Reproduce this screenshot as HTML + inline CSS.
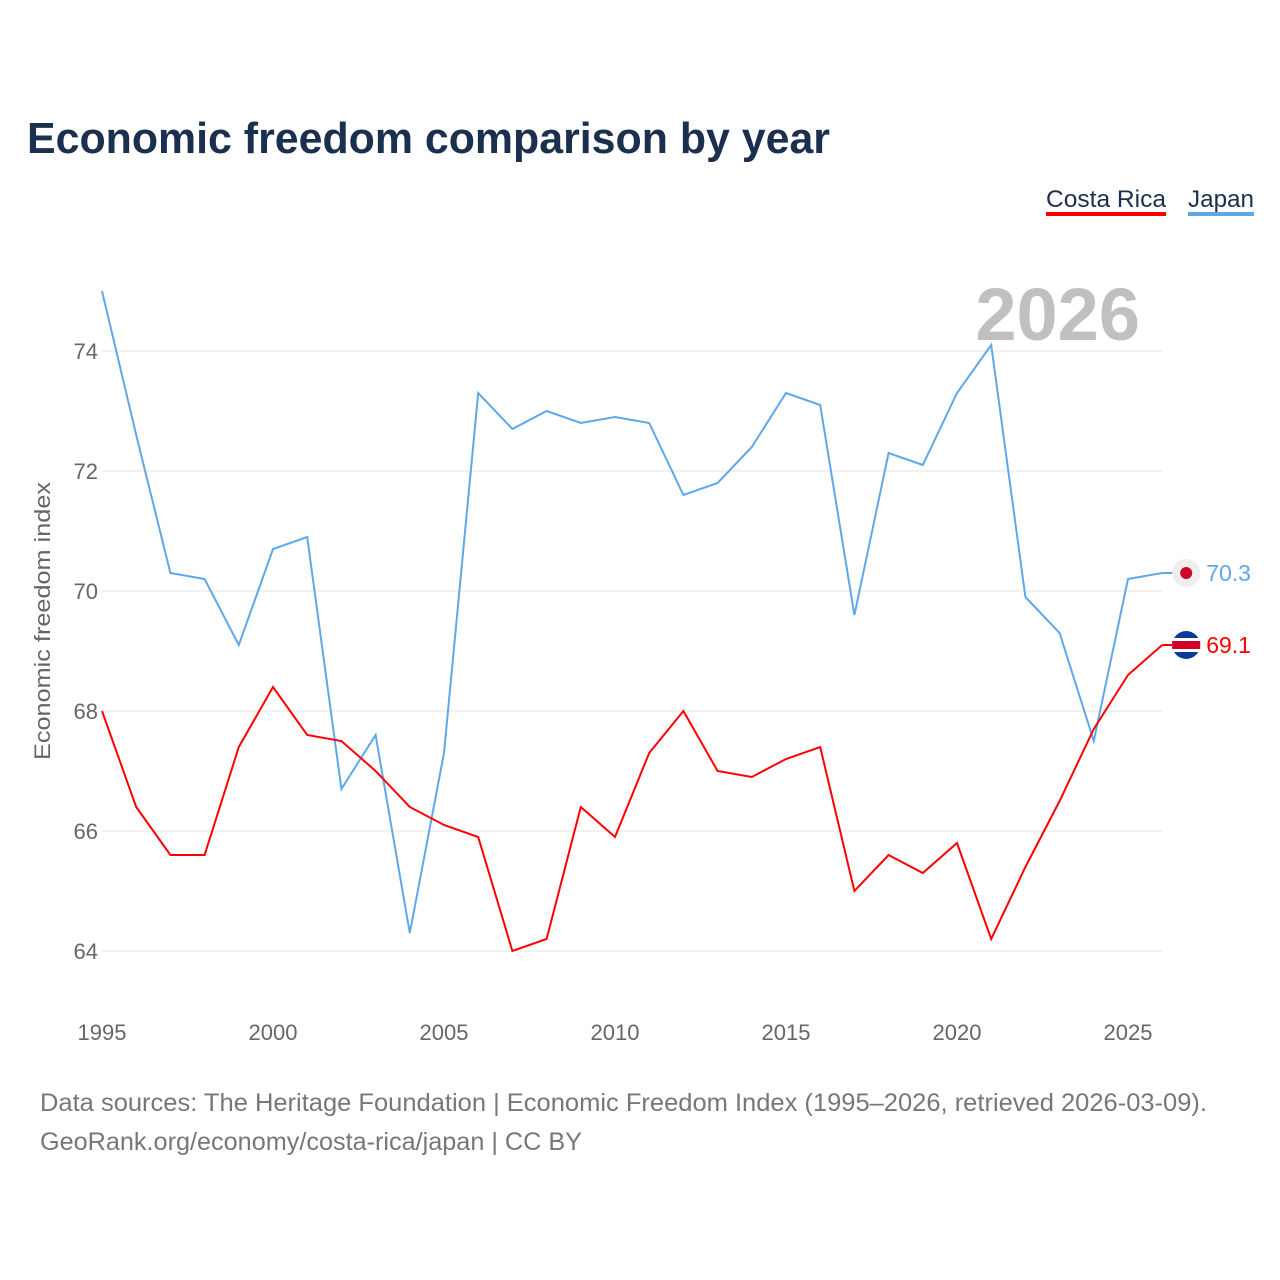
<!DOCTYPE html>
<html><head><meta charset="utf-8"><style>
body{margin:0;background:#fff;font-family:"Liberation Sans",sans-serif}
svg{display:block}
</style></head><body>
<svg id="chart" width="1280" height="1280" xmlns="http://www.w3.org/2000/svg">
<text x="27" y="153" font-size="44" font-weight="bold" fill="#1b2f4e" textLength="803" lengthAdjust="spacingAndGlyphs">Economic freedom comparison by year</text>
<g>
<text x="1046" y="207" font-size="24" fill="#1b2f4e" textLength="120" lengthAdjust="spacingAndGlyphs">Costa Rica</text>
<rect x="1046" y="212" width="120" height="4" fill="#ff0000"/>
<text x="1188" y="207" font-size="24" fill="#1b2f4e" textLength="66" lengthAdjust="spacingAndGlyphs">Japan</text>
<rect x="1188" y="212" width="66" height="4" fill="#5fa8e8"/>
</g>
<text x="1140" y="340" font-size="74" font-weight="bold" fill="#c0c0c0" text-anchor="end">2026</text>
<g id="grid"></g><g id="xt"></g><g id="yt"></g><g id="lines"></g>
<text transform="translate(50,621) rotate(-90)" font-size="22" fill="#666" text-anchor="middle" textLength="278" lengthAdjust="spacingAndGlyphs">Economic freedom index</text>
<text x="40" y="1111" font-size="25" fill="#777" textLength="1167" lengthAdjust="spacingAndGlyphs">Data sources: The Heritage Foundation | Economic Freedom Index (1995–2026, retrieved 2026-03-09).</text>
<text x="40" y="1150" font-size="25" fill="#777" textLength="542" lengthAdjust="spacingAndGlyphs">GeoRank.org/economy/costa-rica/japan | CC BY</text>
</svg>
<script>
const years=[];for(let y=1995;y<=2026;y++)years.push(y);
const japan=[75.0,72.6,70.3,70.2,69.1,70.7,70.9,66.7,67.6,64.3,67.3,73.3,72.7,73.0,72.8,72.9,72.8,71.6,71.8,72.4,73.3,73.1,69.6,72.3,72.1,73.3,74.1,69.9,69.3,67.5,70.2,70.3];
const costaRica=[68.0,66.4,65.6,65.6,67.4,68.4,67.6,67.5,67.0,66.4,66.1,65.9,64.0,64.2,66.4,65.9,67.3,68.0,67.0,66.9,67.2,67.4,65.0,65.6,65.3,65.8,64.2,65.4,66.5,67.7,68.6,69.1];
const yTicks=[64,66,68,70,72,74];
const xTicks=[1995,2000,2005,2010,2015,2020,2025];
const NS="http://www.w3.org/2000/svg";
const X=y=>102+(y-1995)*1026/30;
const Y=v=>351+(74-v)*60;
function mk(t,a,p){const e=document.createElementNS(NS,t);for(const k in a)e.setAttribute(k,a[k]);document.getElementById(p).appendChild(e);return e;}
yTicks.forEach(v=>{
 const l=mk('line',{x1:102,x2:1162,y1:Y(v),y2:Y(v),stroke:'#e6e6e6','stroke-width':1},'grid');
 
 
 const t=mk('text',{x:98,y:Y(v)+8,'font-size':22,fill:'#666','text-anchor':'end'},'yt');t.textContent=v;
 
 
});
xTicks.forEach(v=>{
 const t=mk('text',{x:X(v),y:1040,'font-size':22,fill:'#666','text-anchor':'middle'},'xt');t.textContent=v;
 
 
});
function series(d,c,name){
 const p=mk('polyline',{points:d.map((v,i)=>X(years[i])+','+Y(v)).join(' '),fill:'none',stroke:c,'stroke-width':2},'lines');
 
 
 const last=d[d.length-1];
 const cx=X(2026)+24,cy=Y(last);
 const s=mk('line',{x1:X(2026),x2:cx-12,y1:cy,y2:cy,stroke:c,'stroke-width':2},'lines');
 
 
 const f=mk('circle',{cx:cx,cy:cy,r:14,fill:name=='japan'?'#eee':'#0a3c96'},'lines');
 
 
 if(name=='japan'){mk('circle',{cx:cx,cy:cy,r:6,fill:'#d0002a'},'lines');}
 else{mk('rect',{x:cx-14,y:cy-7,width:28,height:14,fill:'#fff'},'lines');mk('rect',{x:cx-14,y:cy-4,width:28,height:8,fill:'#d0002a'},'lines');}
 const t=mk('text',{x:cx+20,y:cy+8,'font-size':23,fill:c},'lines');t.textContent=last.toFixed(1);
 
 
}
series(japan,'#5fa8e8','japan');
series(costaRica,'#ff0000','costa-rica');
</script>
</body></html>
